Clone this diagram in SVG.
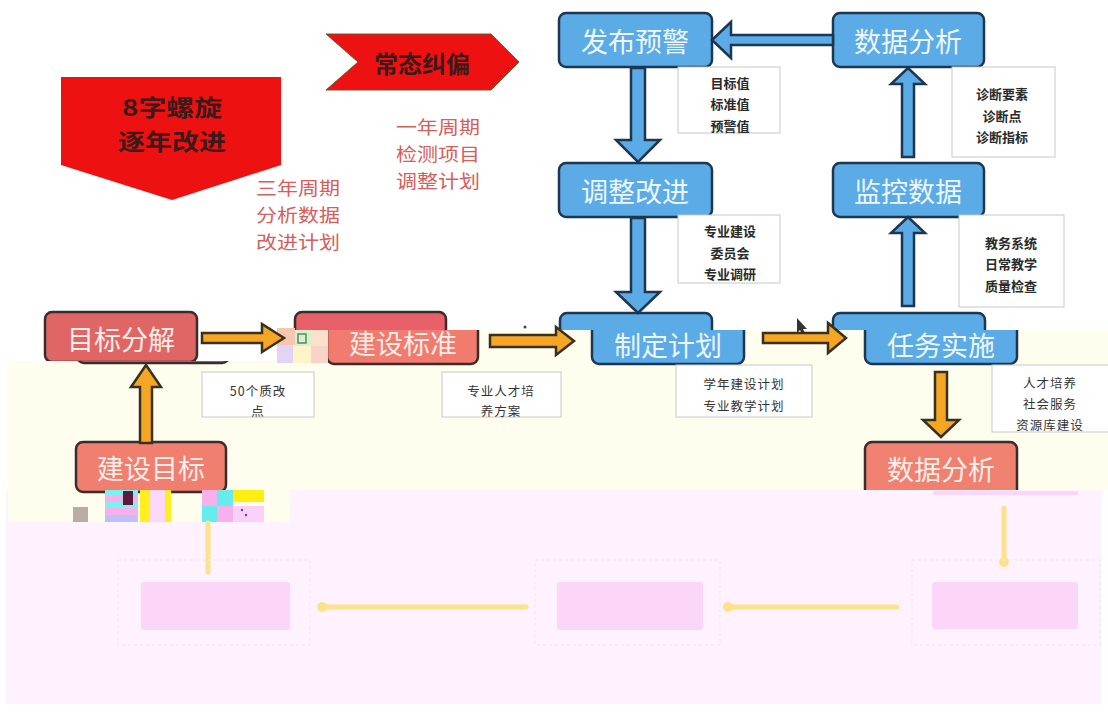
<svg xmlns="http://www.w3.org/2000/svg" width="1108" height="717" viewBox="0 0 1108 717">
<defs>
<style>
.bn{fill:#5aabe6;stroke:#1d3652;stroke-width:2.5}
.rn{stroke:#3b2c2c;stroke-width:2.5}
.nt{font-family:"Noto Sans CJK SC",sans-serif;font-size:27px;fill:#eef6fc;text-anchor:middle;dominant-baseline:central}
.rt{fill:#fdeeea}
.lb{fill:#fff;stroke:#c8c8c8;stroke-width:1}
.lt{font-family:"Noto Sans CJK SC",sans-serif;font-size:13px;fill:#2a2a2a;text-anchor:middle;dominant-baseline:central;font-weight:bold}
.ln{font-family:"Noto Sans CJK SC",sans-serif;font-size:12.5px;fill:#333;text-anchor:middle;dominant-baseline:central;letter-spacing:1px}
.ba{fill:#5aabe6;stroke:#1d3652;stroke-width:2.5}
.oa{fill:#f5a623;stroke:#3a3020;stroke-width:2.5}
.red{font-family:"Noto Sans CJK SC",sans-serif;font-size:18.5px;fill:#d2605c;text-anchor:middle;dominant-baseline:central}
.tt{font-family:"Noto Sans CJK SC",sans-serif;font-weight:bold;fill:#3a1a1a;text-anchor:middle;dominant-baseline:central}
.pk{fill:#fcd6f8}
.yl{stroke:#fde28c;stroke-width:5;stroke-linecap:round;fill:none}
.fo{fill:none;stroke:#f3e6f3;stroke-width:1;stroke-dasharray:3 3}
</style>
<clipPath id="creamClip"><polygon points="8,361 277,361 277,330 1108,330 1108,490 290,490 290,522 8,522"/></clipPath>
</defs>
<rect width="1108" height="717" fill="#ffffff"/>
<rect x="6" y="490" width="1096" height="214" fill="#fdf2fd"/>

<g id="title-spiral">
<polygon points="61,77 281,77 281,165 172,200 61,165" fill="#ee1111"/>
<text class="tt" font-size="23" x="172" y="106" textLength="100" lengthAdjust="spacingAndGlyphs">8字螺旋</text>
<text class="tt" font-size="23" x="172" y="140" textLength="108" lengthAdjust="spacingAndGlyphs">逐年改进</text>
</g>
<g id="title-correct">
<polygon points="326,34 491,34 519,62 491,90 326,90 358,62" fill="#ee1111" stroke="#6a5a30" stroke-width="1"/>
<text class="tt" font-size="24" x="422" y="62">常态纠偏</text>
</g>
<g id="note-one-year">
<text class="red" x="438" y="126" textLength="84" lengthAdjust="spacingAndGlyphs">一年周期</text>
<text class="red" x="438" y="153" textLength="84" lengthAdjust="spacingAndGlyphs">检测项目</text>
<text class="red" x="438" y="180" textLength="84" lengthAdjust="spacingAndGlyphs">调整计划</text>
</g>
<g id="note-three-year">
<text class="red" x="298" y="187" textLength="84" lengthAdjust="spacingAndGlyphs">三年周期</text>
<text class="red" x="298" y="214" textLength="84" lengthAdjust="spacingAndGlyphs">分析数据</text>
<text class="red" x="298" y="241" textLength="84" lengthAdjust="spacingAndGlyphs">改进计划</text>
</g>

<g id="node-fabu"><rect class="bn" x="559" y="13" width="153" height="54" rx="7"/><text class="nt" x="635" y="40">发布预警</text></g>
<g id="node-shuju-top"><rect class="bn" x="833" y="13" width="151" height="54" rx="7"/><text class="nt" x="908" y="40">数据分析</text></g>
<g id="node-tiaozheng"><rect class="bn" x="559" y="163" width="153" height="54" rx="7"/><text class="nt" x="635" y="190">调整改进</text></g>
<g id="node-jiankong"><rect class="bn" x="833" y="163" width="151" height="54" rx="7"/><text class="nt" x="908" y="190">监控数据</text></g>

<g id="label-mubiao"><rect class="lb" x="678" y="67" width="102" height="66"/><text class="lt" x="730" y="82">目标值</text><text class="lt" x="730" y="103">标准值</text><text class="lt" x="730" y="125">预警值</text></g>
<g id="label-zhenduan"><rect class="lb" x="952" y="67" width="103" height="90"/><text class="lt" x="1002" y="93">诊断要素</text><text class="lt" x="1002" y="115">诊断点</text><text class="lt" x="1002" y="136">诊断指标</text></g>
<g id="label-zhuanye"><rect class="lb" x="678" y="215" width="102" height="68"/><text class="lt" x="730" y="230">专业建设</text><text class="lt" x="730" y="252">委员会</text><text class="lt" x="730" y="273">专业调研</text></g>
<g id="label-jiaowu"><rect class="lb" x="959" y="215" width="105" height="92"/><text class="lt" x="1011" y="242">教务系统</text><text class="lt" x="1011" y="263">日常教学</text><text class="lt" x="1011" y="285">质量检查</text></g>

<g id="node-mubiao-fenjie"><rect class="rn" x="45" y="312" width="152" height="50" rx="7" fill="#e06666"/><text class="nt rt" x="121" y="338">目标分解</text></g>
<g id="node-jianshe-biaozhun-orig"><rect class="rn" x="295" y="312" width="151" height="50" rx="7" fill="#e8606a"/></g>
<g id="node-zhiding-orig"><rect class="bn" x="560" y="313" width="152" height="50" rx="7"/></g>
<g id="node-renwu-orig"><rect class="bn" x="833" y="313" width="152" height="50" rx="7"/></g>

<polygon points="8,361 277,361 277,330 1108,330 1108,490 290,490 290,522 8,522" fill="#fefdee"/>

<g clip-path="url(#creamClip)">
<rect class="rn" x="77" y="313" width="152" height="50" rx="7" fill="#e06666"/>
<g id="node-jianshe-biaozhun"><rect class="rn" x="327" y="314" width="151" height="50" rx="7" fill="#f07b6e"/><text class="nt rt" x="403" y="342">建设标准</text></g>
<g id="node-zhiding"><rect class="bn" x="592" y="314" width="152" height="50" rx="7"/><text class="nt" x="668" y="344">制定计划</text></g>
<g id="node-renwu"><rect class="bn" x="865" y="314" width="152" height="50" rx="7"/><text class="nt" x="941" y="344">任务实施</text></g>
<g id="node-jianshe-mubiao"><rect class="rn" x="76" y="442" width="150" height="50" rx="7" fill="#f07f6f"/><text class="nt rt" x="151" y="467">建设目标</text></g>
<g id="node-shuju-bottom"><rect class="rn" x="865" y="442" width="152" height="56" rx="7" fill="#f0806f"/><text class="nt rt" x="941" y="468">数据分析</text></g>
<g id="label-50"><rect class="lb" x="202" y="372" width="112" height="45"/><text class="ln" x="258" y="390">50个质改</text><text class="ln" x="258" y="410">点</text></g>
<g id="label-rencai"><rect class="lb" x="442" y="372" width="119" height="45"/><text class="ln" x="501" y="390">专业人才培</text><text class="ln" x="501" y="410">养方案</text></g>
<g id="label-xuenian"><rect class="lb" x="676" y="365" width="136" height="52"/><text class="ln" x="744" y="383">学年建设计划</text><text class="ln" x="744" y="405">专业教学计划</text></g>
<g id="label-peiyang"><rect class="lb" x="992" y="365" width="120" height="67"/><text class="ln" x="1050" y="382">人才培养</text><text class="ln" x="1050" y="403">社会服务</text><text class="ln" x="1050" y="424">资源库建设</text></g>
</g>

<g id="glitch">
<rect x="277" y="328" width="18" height="17" fill="#f6c6b0"/>
<rect x="295" y="330" width="16" height="16" fill="#d8efd0"/>
<rect x="311" y="330" width="17" height="16" fill="#fbe0cc"/>
<rect x="277" y="345" width="16" height="18" fill="#e4d4f4"/>
<rect x="293" y="346" width="18" height="17" fill="#fff3c8"/>
<rect x="311" y="346" width="17" height="17" fill="#f8d4c8"/>
<rect x="298" y="334" width="8" height="9" fill="none" stroke="#5a8a5a" stroke-width="1.5"/>
<rect x="73" y="507" width="15" height="15" fill="#b8aca4"/>
<rect x="105" y="490" width="33" height="6" fill="#7ff0f0"/>
<rect x="105" y="496" width="33" height="6" fill="#f8b0ea"/>
<rect x="105" y="502" width="33" height="6" fill="#7ff0f0"/>
<rect x="105" y="508" width="33" height="7" fill="#f8b0ea"/>
<rect x="105" y="515" width="33" height="7" fill="#c0c0f8"/>
<rect x="123" y="491" width="10" height="14" fill="#5a1a3a"/>
<rect x="140" y="490" width="10" height="32" fill="#ffee20"/>
<rect x="150" y="490" width="15" height="32" fill="#fbd8f8"/>
<rect x="165" y="490" width="6" height="32" fill="#ffee20"/>
<rect x="202" y="490" width="15" height="16" fill="#f8b0ea"/>
<rect x="217" y="490" width="16" height="16" fill="#66ecec"/>
<rect x="202" y="506" width="15" height="16" fill="#66ecec"/>
<rect x="217" y="506" width="16" height="16" fill="#f8b0ea"/>
<rect x="233" y="490" width="31" height="12" fill="#ffee10"/>
<rect x="233" y="506" width="31" height="16" fill="#fbd0f6"/>
<circle cx="242" cy="510" r="1.2" fill="#6040c0"/>
<circle cx="246" cy="515" r="1.2" fill="#6040c0"/>
<rect x="933" y="491" width="145" height="4" fill="#fbd6f8"/>
<polygon points="797,318 797,333 800,330 803,336 806,335 803,329 807,329" fill="#333"/>
<circle cx="525" cy="327" r="1.5" fill="#444"/>
</g>

<g id="connectors">
<polygon class="ba" points="712,40 731,22 731,35 833,35 833,45 731,45 731,58"/>
<polygon class="ba" points="631,68 645,68 645,140 660,140 638,162 616,140 631,140"/>
<polygon class="ba" points="631,218 645,218 645,292 660,292 638,313 616,292 631,292"/>
<polygon class="ba" points="902,157 914,157 914,84 925,84 908,68 891,84 902,84"/>
<polygon class="ba" points="902,306 914,306 914,233 925,233 908,217 891,233 902,233"/>
<polygon class="oa" points="202,333 262,333 262,324 284,338 262,352 262,343 202,343"/>
<polygon class="oa" points="490,335 556,335 556,327 574,341 556,355 556,347 490,347"/>
<polygon class="oa" points="763,333 828,333 828,323 846,338 828,353 828,343 763,343"/>
<polygon class="oa" points="140,443 140,387 131,387 146,365 161,387 152,387 152,443"/>
<polygon class="oa" points="935,372 947,372 947,420 959,420 941,437 923,420 935,420"/>
<line class="yl" x1="208" y1="523" x2="208" y2="572"/>
<line class="yl" x1="1004" y1="508" x2="1004" y2="562"/>
<line class="yl" x1="526" y1="607" x2="322" y2="607"/>
<line class="yl" x1="897" y1="607" x2="728" y2="607"/>
<circle cx="322" cy="607" r="5" fill="#fde28c"/>
<circle cx="728" cy="607" r="5" fill="#fde28c"/>
<circle cx="1004" cy="562" r="5" fill="#fde28c"/>
</g>

<g id="faded-boxes">
<rect class="fo" x="118" y="560" width="192" height="85"/>
<rect class="fo" x="535" y="560" width="185" height="85"/>
<rect class="fo" x="912" y="560" width="188" height="85"/>
<g id="node-faded-1"><rect class="pk" x="141" y="582" width="149" height="48" rx="3"/></g>
<g id="node-faded-2"><rect class="pk" x="557" y="582" width="146" height="48" rx="3"/></g>
<g id="node-faded-3"><rect class="pk" x="932" y="582" width="146" height="47" rx="3"/></g>
</g>
</svg>
